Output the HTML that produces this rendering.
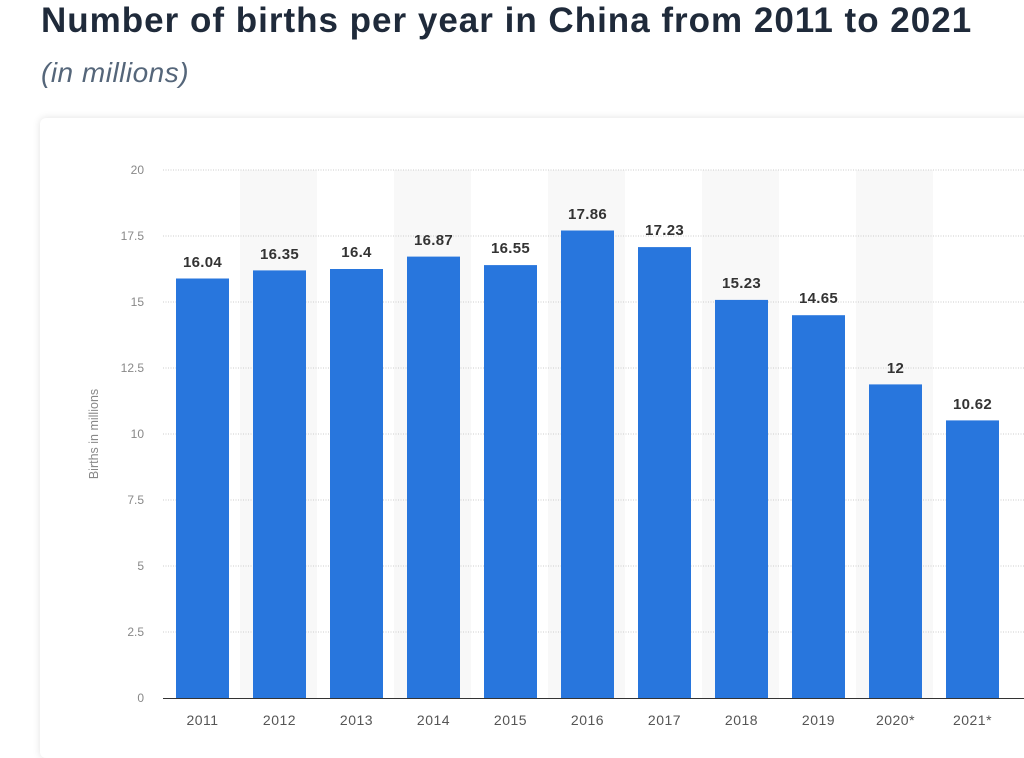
<!DOCTYPE html>
<html><head><style>
body{margin:0;width:1024px;height:742px;background:#fff;overflow:hidden;font-family:"Liberation Sans",sans-serif;position:relative}
.t{position:absolute;left:41px;top:1px;font-size:35px;font-weight:bold;color:#1f2a3a;letter-spacing:1px}
.s{position:absolute;left:41px;top:57px;font-size:28px;font-style:italic;color:#55667a;letter-spacing:0.5px}
.card{position:absolute;left:40px;top:118px;width:1000px;height:640px;background:#fff;border-radius:6px;box-shadow:0 0 8px rgba(0,0,0,0.12)}
</style></head><body>
<div class="t">Number of births per year in China from 2011 to 2021</div>
<div class="s">(in millions)</div>
<div class="card"></div>
<svg style="position:absolute;left:0;top:0" width="1024" height="742" font-family="Liberation Sans, sans-serif">
<g fill="#f8f8f8">
<rect x="240" y="170" width="77" height="528"/><rect x="394" y="170" width="77" height="528"/><rect x="548" y="170" width="77" height="528"/><rect x="702" y="170" width="77" height="528"/><rect x="856" y="170" width="77" height="528"/>
</g>
<g stroke="#ccc" stroke-dasharray="1,1.5">
<line x1="163" x2="1024" y1="170" y2="170"/><line x1="163" x2="1024" y1="236" y2="236"/><line x1="163" x2="1024" y1="302" y2="302"/><line x1="163" x2="1024" y1="368" y2="368"/><line x1="163" x2="1024" y1="434" y2="434"/><line x1="163" x2="1024" y1="500" y2="500"/><line x1="163" x2="1024" y1="566" y2="566"/><line x1="163" x2="1024" y1="632" y2="632"/>
</g>
<g fill="#888" font-size="12" text-anchor="end">
<text x="144" y="174">20</text><text x="144" y="240">17.5</text><text x="144" y="306">15</text><text x="144" y="372">12.5</text><text x="144" y="438">10</text><text x="144" y="504">7.5</text><text x="144" y="570">5</text><text x="144" y="636">2.5</text><text x="144" y="702">0</text>
</g>
<text transform="translate(98,434) rotate(-90)" fill="#888" font-size="12.5" text-anchor="middle">Births in millions</text>
<g fill="#2876dd">
<rect x="176" y="278.5" width="53" height="419.5"/>
<rect x="253" y="270.4" width="53" height="427.6"/>
<rect x="330" y="269" width="53" height="429"/>
<rect x="407" y="256.6" width="53" height="441.4"/>
<rect x="484" y="265.1" width="53" height="432.9"/>
<rect x="561" y="230.5" width="53" height="467.5"/>
<rect x="638" y="247.1" width="53" height="450.9"/>
<rect x="715" y="299.9" width="53" height="398.1"/>
<rect x="792" y="315.2" width="53" height="382.8"/>
<rect x="869" y="384.4" width="53" height="313.6"/>
<rect x="946" y="420.4" width="53" height="277.6"/>
</g>
<line x1="163" x2="1024" y1="698.5" y2="698.5" stroke="#333"/>
<g fill="#333" font-size="15" font-weight="bold" text-anchor="middle" letter-spacing="0.3">
<text x="202.5" y="267">16.04</text><text x="279.5" y="259">16.35</text><text x="356.5" y="257">16.4</text><text x="433.5" y="245">16.87</text><text x="510.5" y="253">16.55</text><text x="587.5" y="219">17.86</text><text x="664.5" y="235">17.23</text><text x="741.5" y="288">15.23</text><text x="818.5" y="303">14.65</text><text x="895.5" y="373">12</text><text x="972.5" y="409">10.62</text>
</g>
<g fill="#555" font-size="14" text-anchor="middle" letter-spacing="0.5">
<text x="202.5" y="725">2011</text><text x="279.5" y="725">2012</text><text x="356.5" y="725">2013</text><text x="433.5" y="725">2014</text><text x="510.5" y="725">2015</text><text x="587.5" y="725">2016</text><text x="664.5" y="725">2017</text><text x="741.5" y="725">2018</text><text x="818.5" y="725">2019</text><text x="895.5" y="725">2020*</text><text x="972.5" y="725">2021*</text>
</g>
</svg>
</body></html>
